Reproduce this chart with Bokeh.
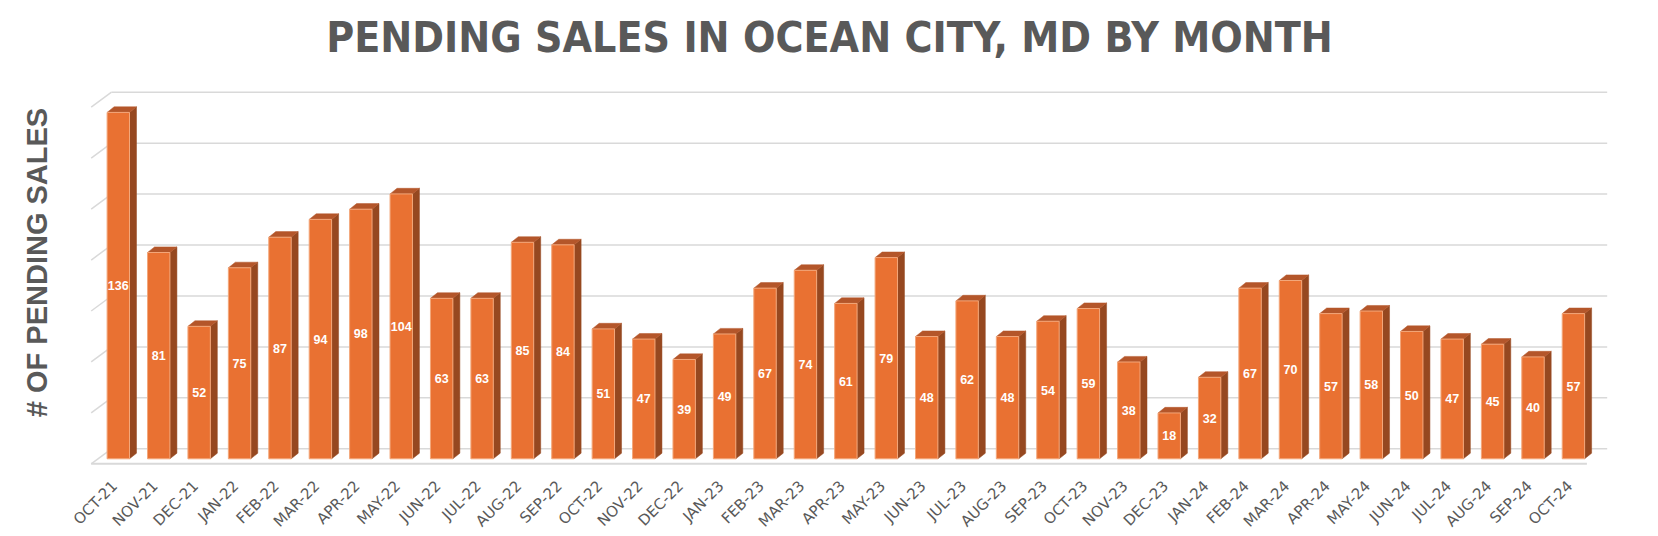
import math
from bokeh.plotting import figure
from bokeh.models import Range1d, Label, ColumnDataSource
from bokeh.core.properties import value
from bokeh.embed import file_html
from bokeh.resources import INLINE

# ---------------- data ----------------
months = ["OCT-21", "NOV-21", "DEC-21", "JAN-22", "FEB-22", "MAR-22", "APR-22", "MAY-22",
          "JUN-22", "JUL-22", "AUG-22", "SEP-22", "OCT-22", "NOV-22", "DEC-22", "JAN-23",
          "FEB-23", "MAR-23", "APR-23", "MAY-23", "JUN-23", "JUL-23", "AUG-23", "SEP-23",
          "OCT-23", "NOV-23", "DEC-23", "JAN-24", "FEB-24", "MAR-24", "APR-24", "MAY-24",
          "JUN-24", "JUL-24", "AUG-24", "SEP-24", "OCT-24"]
pending = [136, 81, 52, 75, 87, 94, 98, 104, 63, 63, 85, 84, 51, 47, 39, 49, 67, 74, 61, 79,
           48, 62, 48, 54, 59, 38, 18, 32, 67, 70, 57, 58, 50, 47, 45, 40, 57]
grid_values = [0, 20, 40, 60, 80, 100, 120, 140]

title_text = "PENDING SALES IN OCEAN CITY, MD BY MONTH"
ylabel_text = "# OF PENDING SALES"

# ---------------- layout constants ----------------
W, H = 1658, 536
XS = 40.42          # px per category step
YS = 2.547          # px per unit value
X0_PX = 117.8       # px of first bar centre
Y0_PX = H - 458.3   # px of value 0 from bottom
BAR_W = 22.4 / XS
DDX = 7.0 / XS      # bar depth
DDY = 5.6 / YS
WALL_DX = 20.3 / XS  # floor/wall depth
WALL_DY = 15.0 / YS
BACK_UP = 10.0 / YS  # back wall zero above bar base

FRONT = "#E97132"
SIDE = "#964820"
TOP = "#B4562A"
GRID = "#D9D9D9"
TXT = "#595959"

x_start = -X0_PX / XS
y_start = -Y0_PX / YS
p = figure(width=W, height=H, x_range=Range1d(x_start, x_start + W / XS),
           y_range=Range1d(y_start, y_start + H / YS),
           x_axis_type=None, y_axis_type=None, min_border=0,
           toolbar_location=None, output_backend="svg", title=None)
p.outline_line_color = None
p.background_fill_color = "white"
p.border_fill_color = "white"

n = len(months)
idx = list(range(n))

# back wall gridlines + side wall lines
back_left = (111.0 - X0_PX) / XS
back_right = (1606.7 - X0_PX) / XS
gy = [g + BACK_UP for g in grid_values]
p.segment(x0=[back_left] * len(gy), y0=gy, x1=[back_right] * len(gy), y1=gy,
          line_color=GRID, line_width=1.5)
p.segment(x0=[back_left - WALL_DX] * len(gy), y0=[y - WALL_DY for y in gy],
          x1=[back_left] * len(gy), y1=gy, line_color=GRID, line_width=1.5)
# floor front edge
p.segment(x0=[back_left - WALL_DX], y0=[BACK_UP - WALL_DY],
          x1=[back_right - WALL_DX], y1=[BACK_UP - WALL_DY],
          line_color=GRID, line_width=2)

# bars
side_xs, side_ys, top_xs, top_ys = [], [], [], []
for i, v in zip(idx, pending):
    l, r = i - BAR_W / 2, i + BAR_W / 2
    side_xs.append([r, r + DDX, r + DDX, r])
    side_ys.append([0, DDY, v + DDY, v])
    top_xs.append([l, l + DDX, r + DDX, r])
    top_ys.append([v, v + DDY, v + DDY, v])
p.patches(xs=side_xs, ys=side_ys, fill_color=SIDE, line_color=SIDE, line_width=0.5)
p.patches(xs=top_xs, ys=top_ys, fill_color=TOP, line_color=TOP, line_width=0.5)
src = ColumnDataSource(dict(x=idx, top=pending, half=[v / 2 for v in pending],
                            lab=[str(v) for v in pending], month=months))
p.vbar(x="x", top="top", bottom=0, width=BAR_W, source=src, fill_color=FRONT,
       line_color="#F3A77A", line_width=1)

# value labels
p.text(x="x", y="half", text="lab", source=src, text_color="white",
       text_font=value("Liberation Sans"), text_font_style="bold",
       text_font_size="12.5px", text_align="center", text_baseline="middle")

# category labels (rotated)
p.text(x=[i - 3.5 / XS for i in idx], y=[-24.7 / YS] * n, text=months,
       angle=math.pi / 4, text_color=TXT, text_font=value("DejaVu Sans"),
       text_font_size="15px", text_align="right", text_baseline="middle")

# titles
p.add_layout(Label(x=829, y=H - 37, x_units="screen", y_units="screen", text=title_text,
                   text_font="DejaVu Sans Condensed", text_font_style="bold",
                   text_font_size="42.5px", text_color=TXT, text_align="center",
                   text_baseline="alphabetic"))
p.add_layout(Label(x=36.5, y=H - 262, x_units="screen", y_units="screen", text=ylabel_text,
                   angle=math.pi / 2, text_font="Liberation Sans", text_font_style="bold",
                   text_font_size="29px", text_color=TXT, text_align="center",
                   text_baseline="alphabetic"))

open("out.html", "w").write(file_html(p, INLINE))
